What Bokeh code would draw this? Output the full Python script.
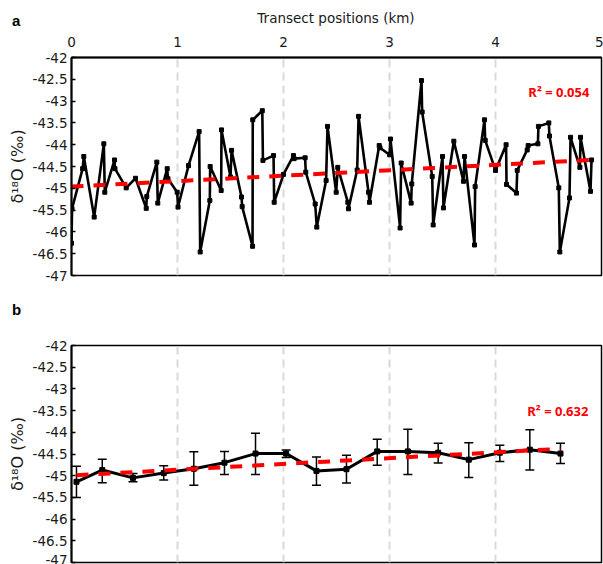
from bokeh.plotting import figure
from bokeh.layouts import column
from bokeh.models import Range1d, FixedTicker, Whisker, TeeHead, ColumnDataSource, Div
from bokeh.core.properties import value
from bokeh.embed import file_html
from bokeh.resources import INLINE

# ---- panel a: individual samples ----
a_x = [0.00, 0.005, 0.105, 0.116, 0.214, 0.305, 0.314, 0.406, 0.41, 0.516,
       0.604, 0.705, 0.71, 0.805, 0.814, 0.903, 0.91, 0.997, 1.005, 1.104,
       1.204, 1.214, 1.305, 1.308, 1.412, 1.415, 1.50, 1.51, 1.604, 1.61,
       1.708, 1.71, 1.80, 1.806, 1.906, 1.912, 2.0, 2.094, 2.10, 2.204,
       2.21, 2.299, 2.314, 2.402, 2.415, 2.497, 2.512, 2.607, 2.613, 2.695,
       2.708, 2.802, 2.811, 2.903, 2.91, 3.0, 3.009, 3.10, 3.11, 3.204,
       3.21, 3.302, 3.308, 3.403, 3.412, 3.50, 3.509, 3.607, 3.698, 3.708,
       3.802, 3.808, 3.896, 3.903, 4.0, 4.10, 4.104, 4.198, 4.205, 4.299,
       4.308, 4.40, 4.405, 4.503, 4.509, 4.597, 4.607, 4.698, 4.708, 4.796,
       4.802, 4.896, 4.906]
a_y = [-46.26, -45.47, -44.55, -44.27, -45.66, -43.98, -45.09, -44.35, -44.55, -44.99,
       -44.77, -45.46, -45.19, -44.40, -45.34, -44.55, -44.78, -45.09, -45.43, -44.48,
       -43.70, -46.46, -45.28, -44.50, -45.05, -43.66, -44.74, -44.13, -45.20, -45.42,
       -46.33, -43.43, -43.22, -44.36, -44.25, -45.32, -44.68, -44.25, -44.32, -44.30,
       -44.63, -45.36, -45.89, -44.82, -43.58, -45.09, -44.52, -45.32, -45.47, -44.58,
       -43.35, -45.09, -45.32, -44.02, -44.07, -44.23, -43.87, -45.91, -44.42, -45.34,
       -44.90, -42.53, -43.25, -44.73, -45.84, -44.27, -45.45, -43.92, -44.84, -44.27,
       -46.30, -44.96, -43.43, -43.90, -44.59, -44.00, -44.91, -45.11, -44.59, -44.12,
       -44.02, -43.98, -43.58, -43.50, -43.80, -44.99, -46.46, -45.22, -43.83, -44.52,
       -43.83, -45.07, -44.35]
trend_a_x = [0.0, 4.906]
trend_a_y = [-44.96, -44.35]
r2_a = "R² = 0.054"

# ---- panel b: binned means with error bars ----
b_x = [0.047, 0.29, 0.58, 0.87, 1.154, 1.443, 1.736, 2.025, 2.311, 2.594,
       2.884, 3.173, 3.459, 3.748, 4.041, 4.324, 4.613]
b_y = [-45.14, -44.87, -45.05, -44.94, -44.84, -44.70, -44.49, -44.49, -44.89, -44.85,
       -44.44, -44.44, -44.47, -44.63, -44.47, -44.40, -44.49]
b_hi = [-44.78, -44.62, -44.95, -44.77, -44.45, -44.44, -44.02, -44.41, -44.57, -44.53,
        -44.16, -43.93, -44.25, -44.24, -44.30, -43.94, -44.25]
b_lo = [-45.50, -45.16, -45.14, -45.10, -45.22, -44.97, -44.97, -44.58, -45.22, -45.17,
        -44.76, -44.97, -44.71, -45.04, -44.67, -44.87, -44.72]
trend_b_x = [0.047, 4.613]
trend_b_y = [-44.99, -44.38]
r2_b = "R² = 0.632"

x_ticks = [0, 1, 2, 3, 4, 5]
grid_ticks = [1, 2, 3, 4]
y_ticks = [-47, -46.5, -46, -45.5, -45, -44.5, -44, -43.5, -43, -42.5, -42]
y_tick_labels = ["-47", "-46.5", "-46", "-45.5", "-45", "-44.5", "-44", "-43.5", "-43", "-42.5", "-42"]
x_label = "Transect positions (km)"
y_label = "δ¹⁸O (‰)"
panel_letters = ["a", "b"]

FONT = "DejaVu Sans"
TXT = "#1a1a1a"


def style(p):
    p.background_fill_color = "white"
    p.border_fill_color = "white"
    p.outline_line_color = "black"
    p.outline_line_width = 1.5
    p.xgrid.ticker = FixedTicker(ticks=grid_ticks)
    p.xgrid.grid_line_color = "#d9d9d9"
    p.xgrid.grid_line_width = 2
    p.xgrid.grid_line_dash = "8 5"
    p.ygrid.grid_line_color = None
    ya = p.yaxis[0]
    ya.ticker = FixedTicker(ticks=y_ticks)
    ya.major_label_overrides = {t: l for t, l in zip(y_ticks, y_tick_labels)}
    ya.major_tick_in = 4
    ya.major_tick_out = 0
    ya.minor_tick_in = 0
    ya.minor_tick_out = 0
    ya.axis_line_width = 2
    ya.axis_line_color = "black"
    ya.major_tick_line_width = 1.5
    ya.major_label_text_font = FONT
    ya.major_label_text_font_size = "13.5px"
    ya.major_label_text_color = TXT
    ya.major_label_standoff = 4
    ya.axis_label = y_label
    ya.axis_label_text_font = FONT
    ya.axis_label_text_font_size = "16px"
    ya.axis_label_text_font_style = "normal"
    ya.axis_label_text_color = TXT
    ya.axis_label_standoff = 3


letter_css = ("position:absolute;left:12px;top:{top}px;font-family:'Liberation Sans';"
              "font-weight:bold;font-size:15px;line-height:15px;color:#000;")

# ---------- header (panel letter a + x axis title) ----------
head_html = (
    '<div style="position:relative;width:603px;height:30px;">'
    f'<span style="{letter_css.format(top=13)}">{panel_letters[0]}</span>'
    '<span style="position:absolute;left:0px;top:10px;width:672px;text-align:center;'
    f"font-family:'DejaVu Sans';font-size:13.5px;line-height:16px;color:{TXT};\">{x_label}</span>"
    '</div>'
)
head = Div(text=head_html, width=603, height=30, margin=(0, 0, 0, 0))

# ---------- top figure ----------
p1 = figure(width=603, height=260, x_range=Range1d(0, 5), y_range=Range1d(-47, -42),
            x_axis_location="above", output_backend="svg", toolbar_location=None,
            min_border_left=71, min_border_right=2, min_border_top=27, min_border_bottom=15)
style(p1)
xa = p1.xaxis[0]
xa.ticker = FixedTicker(ticks=x_ticks)
xa.major_tick_in = 0
xa.major_tick_out = 0
xa.minor_tick_in = 0
xa.minor_tick_out = 0
xa.axis_line_width = 2
xa.axis_line_color = "black"
xa.major_label_text_font = FONT
xa.major_label_text_font_size = "13.5px"
xa.major_label_text_color = TXT
xa.major_label_standoff = 11

p1.line(a_x, a_y, line_color="black", line_width=2.6, line_join="round")
p1.scatter(a_x, a_y, marker="square", size=4, fill_color="black", line_color="black")
p1.line(trend_a_x, trend_a_y, line_color="#ff0000", line_width=4, line_dash="12 10")
p1.text(x=[4.31], y=[-42.80], text=[r2_a], text_color="#ff0000",
        text_font=value("Noto Sans"), text_font_style="bold", text_font_size="13px",
        text_align="left", text_baseline="middle")

# ---------- panel letter b ----------
mid_html = (
    '<div style="position:relative;width:603px;height:40px;">'
    f'<span style="{letter_css.format(top=12)}">{panel_letters[1]}</span>'
    '</div>'
)
mid = Div(text=mid_html, width=603, height=40, margin=(0, 0, 0, 0))

# ---------- bottom figure ----------
p2 = figure(width=603, height=234, x_range=Range1d(0, 5), y_range=Range1d(-47, -42),
            x_axis_location=None, output_backend="svg", toolbar_location=None,
            min_border_left=71, min_border_right=2, min_border_top=15, min_border_bottom=2)
style(p2)
src = ColumnDataSource(dict(x=b_x, y=b_y, hi=b_hi, lo=b_lo))
p2.add_layout(Whisker(base="x", upper="hi", lower="lo", source=src,
                      line_color="black", line_width=1.5,
                      upper_head=TeeHead(size=9, line_color="black", line_width=1.5),
                      lower_head=TeeHead(size=9, line_color="black", line_width=1.5)))
p2.line("x", "y", source=src, line_color="black", line_width=3, line_join="round")
p2.scatter("x", "y", source=src, marker="square", size=5, fill_color="black", line_color="black")
p2.line(trend_b_x, trend_b_y, line_color="#ff0000", line_width=4, line_dash="12 10")
p2.text(x=[4.30], y=[-43.52], text=[r2_b], text_color="#ff0000",
        text_font=value("Noto Sans"), text_font_style="bold", text_font_size="13px",
        text_align="left", text_baseline="middle")

layout = column(head, p1, mid, p2, spacing=0)
open("out.html", "w").write(file_html(layout, INLINE))
